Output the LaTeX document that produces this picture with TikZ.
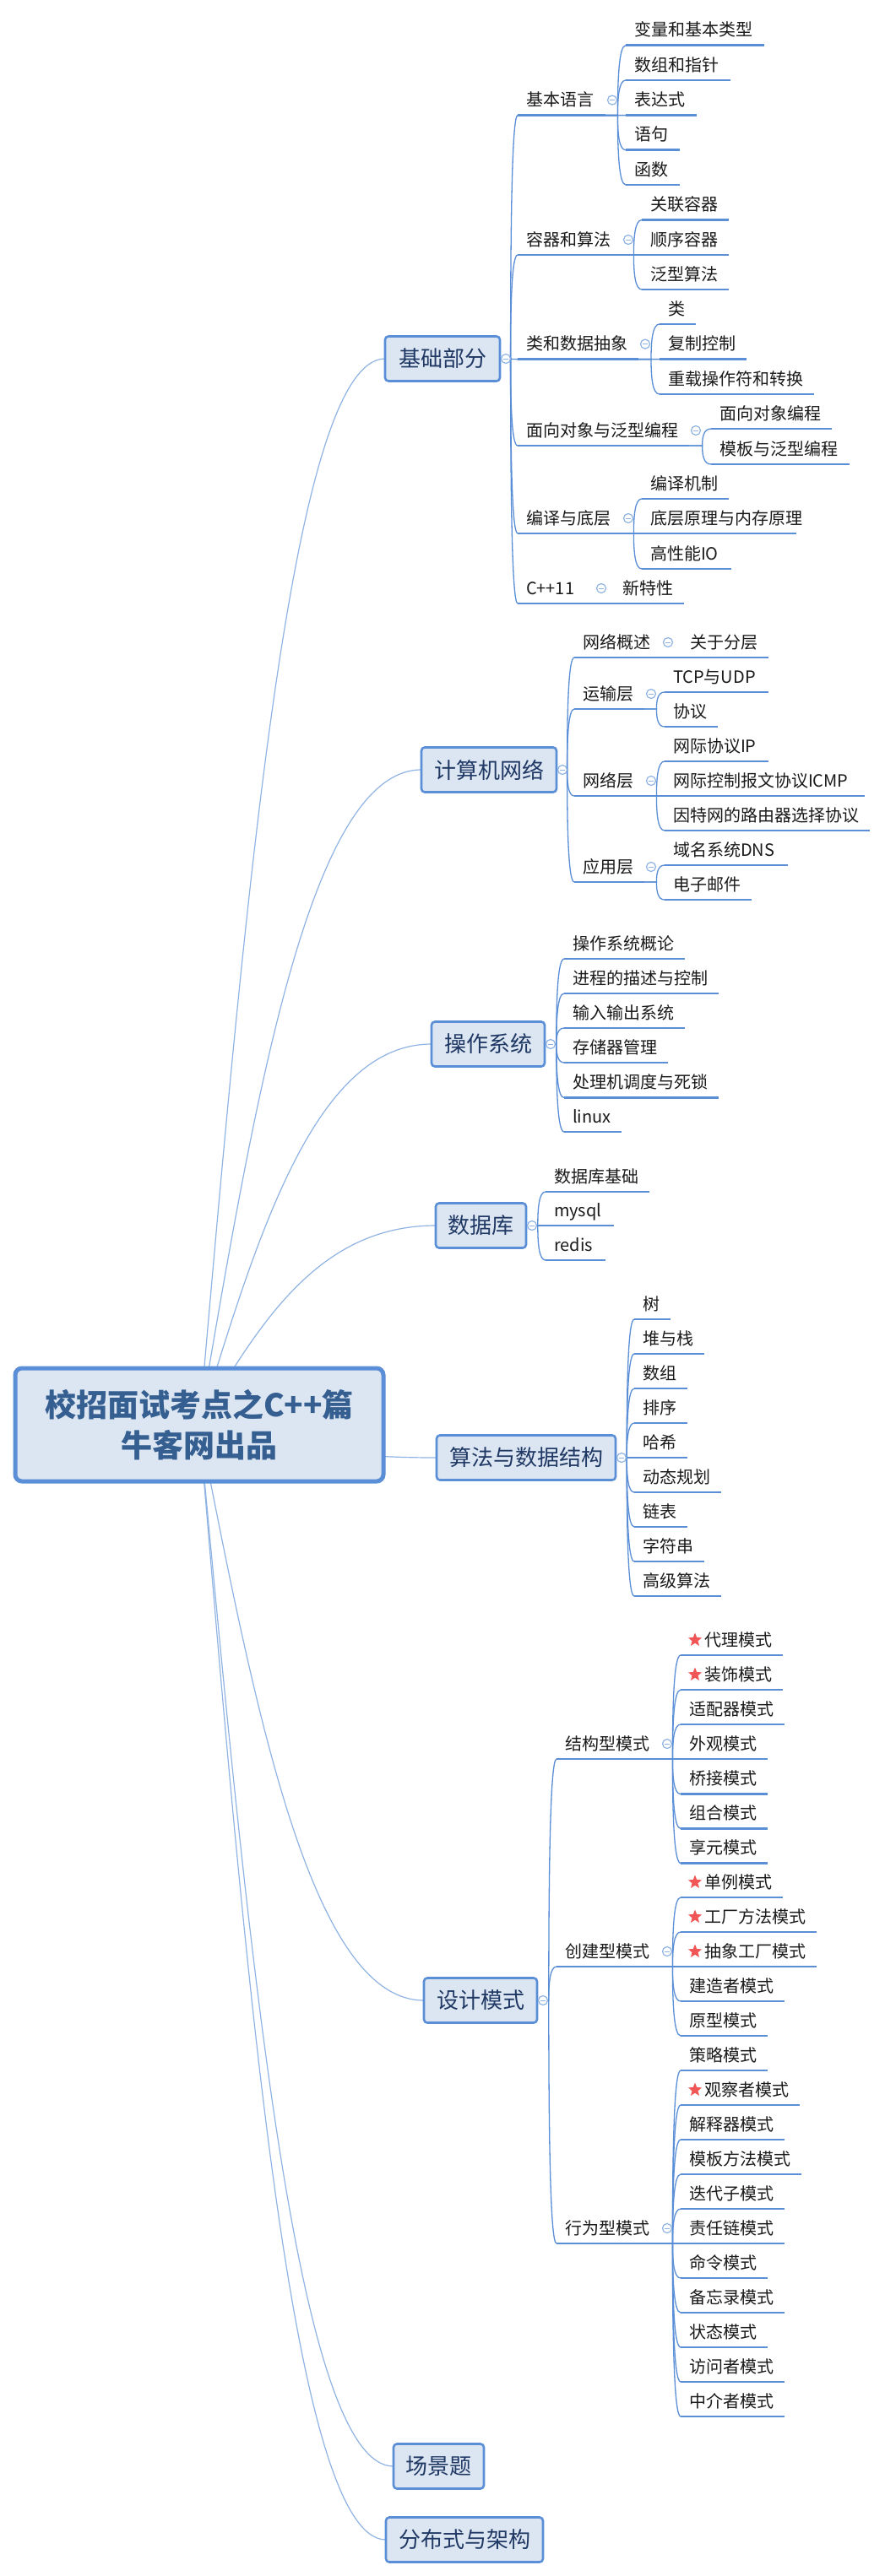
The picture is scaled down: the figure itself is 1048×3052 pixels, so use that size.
\documentclass[tikz,border=0pt]{standalone}
\usepackage{fontspec}
\setmainfont{Noto Sans CJK SC}
\usetikzlibrary{calc,backgrounds,shapes.geometric}
\definecolor{ln}{HTML}{5A8ED6}
\definecolor{thin}{HTML}{8FB3E3}
\definecolor{boxfill}{HTML}{DCE6F2}
\definecolor{boxtext}{HTML}{1F3864}
\definecolor{roottext}{HTML}{355E91}
\definecolor{leaftext}{HTML}{1A1A1A}
\definecolor{starred}{HTML}{F25555}
\tikzset{
  leaf/.style={anchor=south west,inner xsep=10pt,inner ysep=6pt,outer sep=0pt,text height=15pt,text depth=5pt,text=leaftext,font=\fontsize{20}{24}\selectfont},
  ul/.style={draw=ln,line width=2.8pt},
  conn/.style={draw=ln,line width=1.3pt},
  rootconn/.style={draw=thin,line width=1.2pt},
  topicbox/.style={rectangle,rounded corners=4pt,fill=boxfill,draw=ln,line width=2.6pt,inner sep=0pt,outer sep=0pt,minimum height=53pt,text=boxtext,font=\fontsize{26}{30}\selectfont},
  rootbox/.style={rectangle,rounded corners=8pt,fill=boxfill,draw=ln,line width=5pt,inner sep=0pt,outer sep=0pt,minimum width=436pt,minimum height=134pt,align=center,text=roottext,font=\fontsize{37}{48}\selectfont\bfseries},
  fold/.style={circle,draw=thin,fill=white,line width=1.2pt,inner sep=0pt,minimum size=11pt,path picture={\draw[thin,line width=1pt] ([xshift=-3pt]path picture bounding box.center) -- ([xshift=3pt]path picture bounding box.center);}},
  starmark/.style={star,star points=5,star point ratio=2.3,fill=starred,draw=none,inner sep=0pt,minimum size=17pt}
}
% name, x, underline y, width, text
\newcommand{\lf}[5]{\node[leaf] (#1) at (#2,#3) {\makebox[\dimexpr#4pt-20pt\relax][l]{#5}};\draw[ul] (#1.south west) -- (#1.south east);}
% the same, with a star in front of the text
\newcommand{\slf}[5]{\node[leaf] (#1) at (#2,#3) {\makebox[\dimexpr#4pt-20pt\relax][l]{\hspace{18pt}#5}};\draw[ul] (#1.south west) -- (#1.south east);\node[starmark] (#1s) at ($(#1.south west)+(17,-18)$) {};}
% connector: parent anchor, child anchor
\newcommand{\lnk}[2]{\coordinate (J) at ($(#1)!0.6!(#2 |- #1)$);\begin{scope}[on background layer]\draw[conn] (#1) -- (J) .. controls ($(J)!0.5!(J |- #2)$) and ($(J |- #2)!0.15!(#2)$) .. (#2);\end{scope}}
% connectors from a level 2 parent to children
\newcommand{\kids}[2]{\foreach \k in {#2}{\lnk{#1.south east}{\k.south west}}}
\newcommand{\tkids}[2]{\foreach \k in {#2}{\lnk{#1.east}{\k.south west}}}
% fold mark above the end of a parent's underline
\newcommand{\pfold}[1]{\node[fold] (#1f) at ($(#1.south east)+(8,-18)$) {};}
\newcommand{\bfold}[1]{\node[fold] (#1f) at ($(#1.east)+(7,0)$) {};}
\newcommand{\rootlink}[1]{\begin{scope}[on background layer]\draw[rootconn] let \p1=(root.center),\p2=(#1.west) in (\p1) .. controls ({\x1+0.25*(\x2-\x1)},{\y1+0.5*(\y2-\y1)}) and ({\x1+0.5*(\x2-\x1)},\y2) .. (\p2);\end{scope}}
\begin{document}
\begin{tikzpicture}[x=1pt,y=-1pt]
\useasboundingbox (0,0) rectangle (1048,3052);
\begin{scope}[on background layer]\fill[white] (0,0) rectangle (1048,3052);\end{scope}
\node[rootbox] (root) at (236,1688) {校招面试考点之C++篇\\牛客网出品};
\node[topicbox,minimum width=136pt] (t1) at (524,425) {基础部分};
\node[topicbox,minimum width=160pt] (t2) at (579,912) {计算机网络};
\node[topicbox,minimum width=134pt] (t3) at (578,1237) {操作系统};
\node[topicbox,minimum width=107pt] (t4) at (569.5,1452) {数据库};
\node[topicbox,minimum width=212pt] (t5) at (623,1727) {算法与数据结构};
\node[topicbox,minimum width=134pt] (t6) at (569,2370) {设计模式};
\node[topicbox,minimum width=107pt] (t7) at (519.5,2922) {场景题};
\node[topicbox,minimum width=186pt] (t8) at (550,3009) {分布式与架构};
\foreach \t in {t1,t2,t3,t4,t5,t6,t7,t8}{\rootlink{\t}}
% basics
\lf{a1}{613}{136.6}{104}{基本语言}
\lf{a2}{613}{302}{123}{容器和算法}
\lf{a3}{613}{425.6}{143}{类和数据抽象}
\lf{a4}{613}{528}{203}{面向对象与泛型编程}
\lf{a5}{613}{632}{123}{编译与底层}
\lf{a6}{613}{715}{91}{C++11}
\tkids{t1}{a1,a2,a3,a4,a5,a6}
\lf{a11}{741}{53.7}{164}{变量和基本类型}
\lf{a12}{741}{95}{124}{数组和指针}
\lf{a13}{741}{136.6}{84}{表达式}
\lf{a14}{741}{177.8}{64}{语句}
\lf{a15}{741}{219}{64}{函数}
\kids{a1}{a11,a12,a13,a14,a15}
\lf{a21}{760}{260.6}{103}{关联容器}
\lf{a22}{760}{302}{103}{顺序容器}
\lf{a23}{760}{343}{103}{泛型算法}
\kids{a2}{a21,a22,a23}
\lf{a31}{781}{384}{43}{类}
\lf{a32}{781}{425.6}{103}{复制控制}
\lf{a33}{781}{467}{183}{重载操作符和转换}
\kids{a3}{a31,a32,a33}
\lf{a41}{842}{508}{143}{面向对象编程}
\lf{a42}{842}{550}{164}{模板与泛型编程}
\kids{a4}{a41,a42}
\lf{a51}{760}{591}{103}{编译机制}
\lf{a52}{760}{632}{183}{底层原理与内存原理}
\lf{a53}{760}{674}{106}{高性能IO}
\kids{a5}{a51,a52,a53}
\lf{a61}{727}{715}{83}{新特性}
\kids{a6}{a61}
% network
\lf{b1}{680}{779}{103}{网络概述}
\lf{b2}{680}{840}{83}{运输层}
\lf{b3}{680}{943}{83}{网络层}
\lf{b4}{680}{1045}{83}{应用层}
\tkids{t2}{b1,b2,b3,b4}
\lf{b11}{807}{779}{103}{关于分层}
\kids{b1}{b11}
\lf{b21}{787}{820}{123}{TCP与UDP}
\lf{b22}{787}{861}{63}{协议}
\kids{b2}{b21,b22}
\lf{b31}{787}{902}{123}{网际协议IP}
\lf{b32}{787}{943}{237}{网际控制报文协议ICMP}
\lf{b33}{787}{984}{243}{因特网的路由器选择协议}
\kids{b3}{b31,b32,b33}
\lf{b41}{787}{1025}{146}{域名系统DNS}
\lf{b42}{787}{1066}{103}{电子邮件}
\kids{b4}{b41,b42}
% operating systems
\lf{c1}{668}{1136}{143}{操作系统概论}
\lf{c2}{668}{1177}{183}{进程的描述与控制}
\lf{c3}{668}{1218}{143}{输入输出系统}
\lf{c4}{668}{1259}{123}{存储器管理}
\lf{c5}{668}{1300.5}{183}{处理机调度与死锁}
\lf{c6}{668}{1341}{68}{linux}
\tkids{t3}{c1,c2,c3,c4,c5,c6}
% databases
\lf{d1}{646}{1412}{123}{数据库基础}
\lf{d2}{646}{1452}{81}{mysql}
\lf{d3}{646}{1493}{71}{redis}
\tkids{t4}{d1,d2,d3}
% algorithms
\lf{e1}{751}{1563}{43}{树}
\lf{e2}{751}{1604}{83}{堆与栈}
\lf{e3}{751}{1645}{63}{数组}
\lf{e4}{751}{1686}{63}{排序}
\lf{e5}{751}{1727}{63}{哈希}
\lf{e6}{751}{1768}{103}{动态规划}
\lf{e7}{751}{1809}{63}{链表}
\lf{e8}{751}{1850}{83}{字符串}
\lf{e9}{751}{1891}{103}{高级算法}
\tkids{t5}{e1,e2,e3,e4,e5,e6,e7,e8,e9}
% design patterns
\lf{f1}{659}{2084}{123}{结构型模式}
\lf{f2}{659}{2330}{123}{创建型模式}
\lf{f3}{659}{2658}{123}{行为型模式}
\tkids{t6}{f1,f2,f3}
\slf{f11}{806}{1961}{121}{代理模式}
\slf{f12}{806}{2002}{121}{装饰模式}
\lf{f13}{806}{2043}{123}{适配器模式}
\lf{f14}{806}{2084}{103}{外观模式}
\lf{f15}{806}{2125.5}{103}{桥接模式}
\lf{f16}{806}{2166.5}{103}{组合模式}
\lf{f17}{806}{2207.5}{103}{享元模式}
\kids{f1}{f11,f12,f13,f14,f15,f16,f17}
\slf{f21}{806}{2248}{121}{单例模式}
\slf{f22}{806}{2289}{161}{工厂方法模式}
\slf{f23}{806}{2330}{161}{抽象工厂模式}
\lf{f24}{806}{2371}{123}{建造者模式}
\lf{f25}{806}{2412}{103}{原型模式}
\kids{f2}{f21,f22,f23,f24,f25}
\lf{f31}{806}{2453}{103}{策略模式}
\slf{f32}{806}{2494}{141}{观察者模式}
\lf{f33}{806}{2535}{123}{解释器模式}
\lf{f34}{806}{2576}{143}{模板方法模式}
\lf{f35}{806}{2617}{123}{迭代子模式}
\lf{f36}{806}{2658}{123}{责任链模式}
\lf{f37}{806}{2699}{103}{命令模式}
\lf{f38}{806}{2740}{123}{备忘录模式}
\lf{f39}{806}{2781}{103}{状态模式}
\lf{f310}{806}{2822}{123}{访问者模式}
\lf{f311}{806}{2863}{123}{中介者模式}
\kids{f3}{f31,f32,f33,f34,f35,f36,f37,f38,f39,f310,f311}
% fold marks
\foreach \t in {t1,t2,t3,t4,t5,t6}{\bfold{\t}}
\foreach \p in {a1,a2,a3,a4,a5,a6,b1,b2,b3,b4,f1,f2,f3}{\pfold{\p}}
\end{tikzpicture}
\end{document}
